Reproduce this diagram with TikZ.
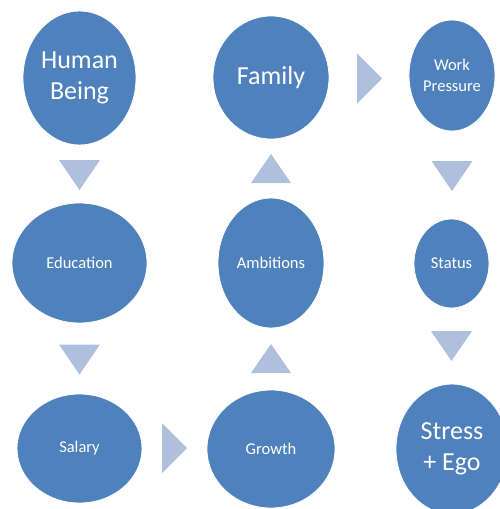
\documentclass[tikz,border=0pt]{standalone}
\usepackage{fontspec}
\setmainfont{Carlito}
\usetikzlibrary{shapes.geometric}
\definecolor{blob}{HTML}{4F81BD}
\definecolor{arrowc}{HTML}{AFC0DC}
\tikzset{
  blobnode/.style={ellipse, fill=blob, draw=white, line width=0.8pt, inner sep=0pt, text=white, align=center},
  bigtxt/.style={font=\fontsize{26}{31}\selectfont},
  smalltxt/.style={font=\fontsize{16.5}{21}\selectfont},
  tri/.style={fill=arrowc},
  downtri/.pic={\fill[tri] (-20.5,-15) -- (20.5,-15) -- (0,15) -- cycle;},
  uptri/.pic={\fill[tri] (-20,14.5) -- (20,14.5) -- (0,-14.5) -- cycle;},
  righttri/.pic={\fill[tri] (-12.5,-25) -- (12.5,0) -- (-12.5,25) -- cycle;}
}
\begin{document}
\begin{tikzpicture}[x=1pt,y=-1pt]
\useasboundingbox (0,0) rectangle (500,509);
% nodes
\node[blobnode,bigtxt,minimum width=113pt,minimum height=134pt] (human) at (79.5,78) {Human\\Being};
\node[blobnode,smalltxt,minimum width=135pt,minimum height=120pt] (edu) at (79.5,263) {Education};
\node[blobnode,smalltxt,minimum width=125pt,minimum height=109pt] (salary) at (79.5,448.5) {Salary};
\node[blobnode,smalltxt,minimum width=128pt,minimum height=118pt] (growth) at (271,449) {Growth};
\node[blobnode,smalltxt,minimum width=106pt,minimum height=130pt] (amb) at (271,263) {Ambitions};
\node[blobnode,bigtxt,minimum width=116pt,minimum height=123pt] (family) at (271,77.5) {Family};
\node[blobnode,smalltxt,minimum width=86pt,minimum height=111pt] (work) at (452,75.5) {Work\\Pressure};
\node[blobnode,smalltxt,minimum width=75pt,minimum height=89pt] (status) at (451.5,263.5) {Status};
\node[blobnode,bigtxt,minimum width=112pt,minimum height=130pt] (stress) at (452,449) {Stress\\+ Ego};
% arrows (triangles)
\pic at (79.5,175) {downtri};
\pic at (79.5,359.5) {downtri};
\pic at (174.5,448) {righttri};
\pic at (271,358.5) {uptri};
\pic at (271,168.5) {uptri};
\pic at (369.5,78.5) {righttri};
\pic at (452,176) {downtri};
\pic at (451.5,346) {downtri};
\end{tikzpicture}
\end{document}
